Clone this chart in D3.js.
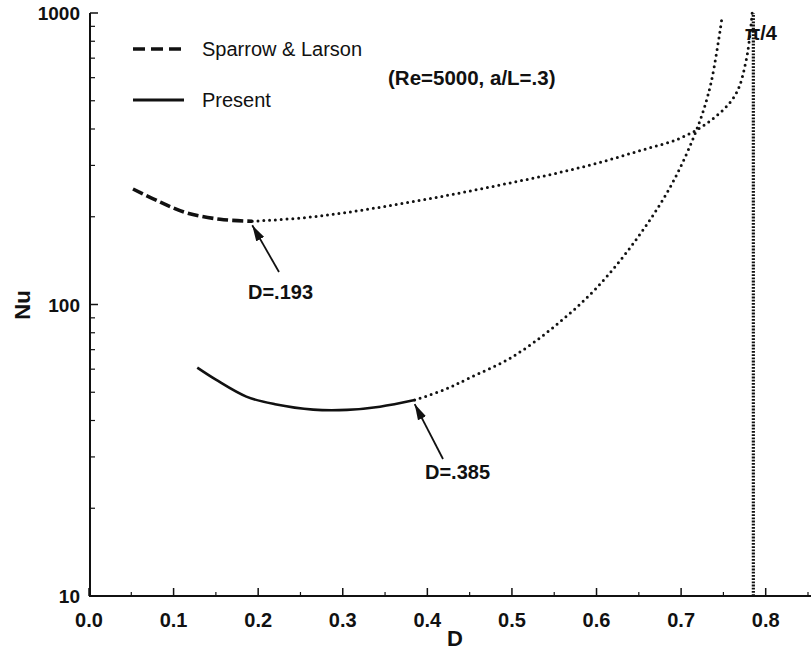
<!DOCTYPE html>
<html>
<head>
<meta charset="utf-8">
<script src="https://cdn.jsdelivr.net/npm/d3@7"></script>
<style>
  body { margin: 0; background: #fff; }
  text { font-family: "Liberation Sans", Arial, sans-serif; fill: #111; }
</style>
</head>
<body>
<div id="plotarea"></div>
<script>
// values
var slD = [0.052, 0.085, 0.116, 0.155, 0.193];
var slNu = [249, 224, 206, 196, 193];
var slExtD = [0.193, 0.25, 0.3, 0.35, 0.4, 0.45, 0.5, 0.55, 0.6, 0.651, 0.699, 0.736, 0.764, 0.777, 0.784];
var slExtNu = [193, 198, 206, 217, 230, 245, 262, 281, 305, 337, 372, 430, 523, 690, 1000];

var prD = [0.128, 0.15, 0.186, 0.22, 0.265, 0.305, 0.344, 0.385];
var prNu = [60.7, 55.2, 48.3, 45.5, 43.6, 43.5, 44.6, 47];
var prExtD = [0.385, 0.42, 0.45, 0.5, 0.55, 0.6, 0.65, 0.69, 0.72, 0.735, 0.748];
var prExtNu = [47, 51, 56, 66, 84, 114, 172, 262, 410, 570, 950];

var limitD = Math.PI / 4;
var xTicks = [0, 0.1, 0.2, 0.3, 0.4, 0.5, 0.6, 0.7, 0.8];
var yTicks = [10, 100, 1000];

var W = 811, H = 653;
var svg = d3.select("#plotarea").append("svg")
    .attr("width", W).attr("height", H);

var x = d3.scaleLinear().domain([0, 0.8]).range([89, 765.7]);
var y = d3.scaleLog().domain([10, 1000]).range([596, 13]);

// axes (ticks point inward)
var minorX = d3.range(0.05, 0.86, 0.1);
var minorY = [];
[10, 100].forEach(function(b) { for (var k = 2; k <= 9; k++) minorY.push(b * k); });

var xAxis = svg.append("g").attr("transform", "translate(0,596)");
xAxis.append("line").attr("x1", 89).attr("x2", 811).attr("stroke", "#111").attr("stroke-width", 2);
xAxis.selectAll(".maj").data(xTicks).enter().append("line")
    .attr("x1", function(d) { return x(d); }).attr("x2", function(d) { return x(d); })
    .attr("y1", 0).attr("y2", -8).attr("stroke", "#111").attr("stroke-width", 1.5);
xAxis.selectAll(".min").data(minorX).enter().append("line")
    .attr("x1", function(d) { return x(d); }).attr("x2", function(d) { return x(d); })
    .attr("y1", 0).attr("y2", -4).attr("stroke", "#111").attr("stroke-width", 1.2);
xAxis.selectAll(".lab").data(xTicks).enter().append("text")
    .attr("x", function(d) { return x(d); }).attr("y", 31)
    .attr("text-anchor", "middle").attr("font-size", 20).attr("font-weight", "bold")
    .text(function(d) { return d.toFixed(1); });

var yAxis = svg.append("g").attr("transform", "translate(90,0)");
yAxis.append("line").attr("y1", 13).attr("y2", 597).attr("stroke", "#111").attr("stroke-width", 2);
yAxis.selectAll(".maj").data(yTicks).enter().append("line")
    .attr("y1", function(d) { return y(d); }).attr("y2", function(d) { return y(d); })
    .attr("x1", 0).attr("x2", 8).attr("stroke", "#111").attr("stroke-width", 1.5);
yAxis.selectAll(".min").data(minorY).enter().append("line")
    .attr("y1", function(d) { return y(d); }).attr("y2", function(d) { return y(d); })
    .attr("x1", 0).attr("x2", 5).attr("stroke", "#111").attr("stroke-width", 1.2);
yAxis.selectAll(".lab").data(yTicks).enter().append("text")
    .attr("x", -10).attr("y", function(d) { return y(d) + 7; })
    .attr("text-anchor", "end").attr("font-size", 19).attr("font-weight", "bold")
    .text(function(d) { return d; });

svg.append("text").attr("x", 455).attr("y", 646).attr("text-anchor", "middle")
    .attr("font-size", 22).attr("font-weight", "bold").text("D");
svg.append("text").attr("transform", "translate(30,305) rotate(-90)").attr("text-anchor", "middle")
    .attr("font-size", 22).attr("font-weight", "bold").text("Nu");

// curves
var line = d3.line()
    .x(function(d) { return x(d[0]); })
    .y(function(d) { return y(d[1]); })
    .curve(d3.curveCatmullRom.alpha(0.5));
function pts(a, b) { return a.map(function(d, i) { return [d, b[i]]; }); }

var curves = svg.append("g").attr("fill", "none").attr("stroke", "#111");
curves.append("path").attr("d", line(pts(slExtD, slExtNu)))
    .attr("stroke-width", 3).attr("stroke-linecap", "round").attr("stroke-dasharray", "0,5.8");
curves.append("path").attr("d", line(pts(prExtD, prExtNu)))
    .attr("stroke-width", 3).attr("stroke-linecap", "round").attr("stroke-dasharray", "0,5.8");
curves.append("path").attr("d", line(pts(slD, slNu)))
    .attr("stroke-width", 3.6).attr("stroke-dasharray", "11,4");
curves.append("path").attr("d", line(pts(prD, prNu)))
    .attr("stroke-width", 2.6);

// pi/4 limit
curves.append("line")
    .attr("x1", x(limitD)).attr("x2", x(limitD)).attr("y1", y(10)).attr("y2", y(1000))
    .attr("stroke-width", 3.2).attr("stroke-dasharray", "1.8,1.4");
svg.append("text").attr("x", 745).attr("y", 40).attr("font-size", 20).attr("font-weight", "bold").text("\u03c0/4");

// legend
var lg = svg.append("g");
lg.append("line").attr("x1", 133).attr("x2", 184).attr("y1", 49).attr("y2", 49)
    .attr("stroke", "#111").attr("stroke-width", 3.6).attr("stroke-dasharray", "12,6");
lg.append("line").attr("x1", 133).attr("x2", 184).attr("y1", 100).attr("y2", 100)
    .attr("stroke", "#111").attr("stroke-width", 3);
lg.append("text").attr("x", 202).attr("y", 56).attr("font-size", 20).text("Sparrow & Larson");
lg.append("text").attr("x", 202).attr("y", 107).attr("font-size", 20).text("Present");
svg.append("text").attr("x", 388).attr("y", 85).attr("font-size", 20.5).attr("font-weight", "bold").text("(Re=5000, a/L=.3)");

// annotations
svg.append("defs").append("marker").attr("id", "ah")
    .attr("viewBox", "0 0 16 10").attr("refX", 16).attr("refY", 5)
    .attr("markerWidth", 16).attr("markerHeight", 10).attr("markerUnits", "userSpaceOnUse")
    .attr("orient", "auto")
  .append("path").attr("d", "M0,0.5 L16,5 L0,9.5 Z").attr("fill", "#111");

function note(d, nu, tx, ty, label, lx, ly) {
  svg.append("line").attr("x1", tx).attr("y1", ty)
      .attr("x2", x(d)).attr("y2", y(nu) + 4)
      .attr("stroke", "#111").attr("stroke-width", 1.8).attr("marker-end", "url(#ah)");
  svg.append("text").attr("x", lx).attr("y", ly).attr("font-size", 20).attr("font-weight", "bold").text(label);
}
note(0.193, 193, 279, 272, "D=.193", 248, 299);
note(0.385, 47, 443, 459, "D=.385", 425, 479);
</script>
</body>
</html>
